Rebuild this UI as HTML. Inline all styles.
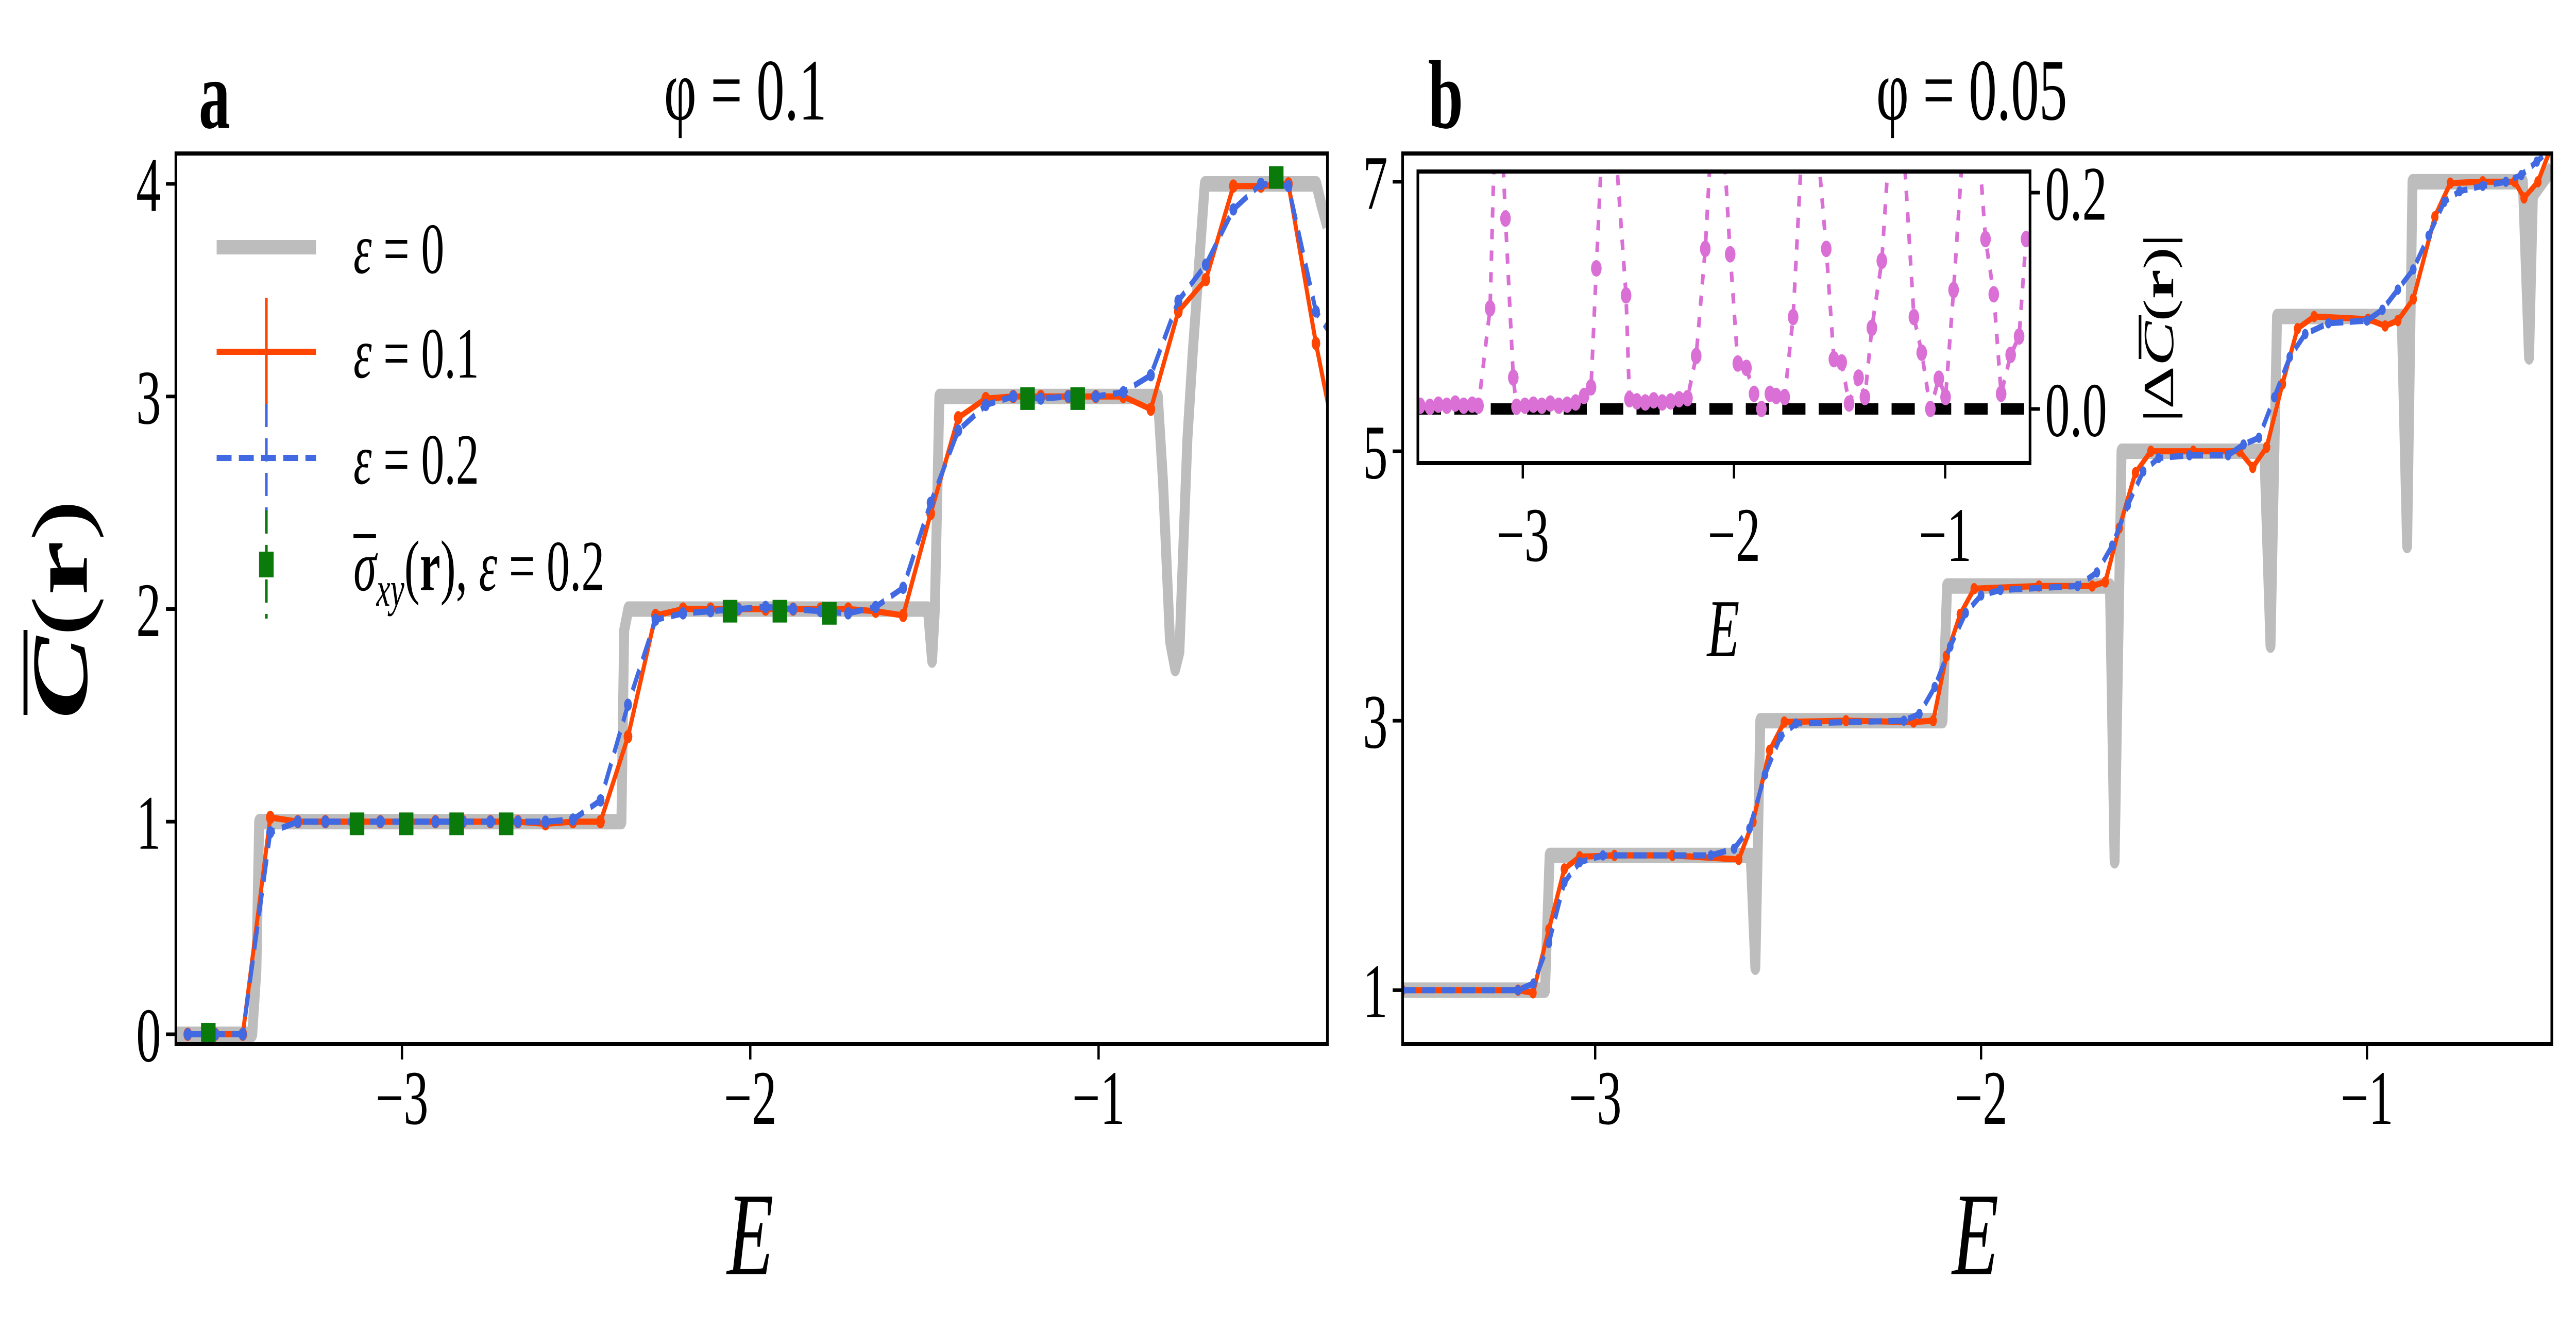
<!DOCTYPE html>
<html><head><meta charset="utf-8">
<style>
html,body{margin:0;padding:0;background:#fff;width:100%;height:100%;overflow:hidden;}
svg{display:block;width:100vw;height:100vh;}
text{font-family:"Liberation Serif","DejaVu Serif",serif;}
</style></head>
<body>
<svg id="fig" xmlns="http://www.w3.org/2000/svg" viewBox="0 0 7776 2588" preserveAspectRatio="none">
<defs>
<clipPath id="clipA"><rect x="531" y="298" width="3476" height="1729"/></clipPath>
<clipPath id="clipB"><rect x="4234" y="298" width="3469" height="1729"/></clipPath>
<clipPath id="clipI"><rect x="4280" y="333" width="1848" height="566"/></clipPath>
</defs>
<g id="root"></g>
</svg>
<script>
// ---------- Panel a data ----------
const aE = [-3.615,-3.536,-3.457,-3.378,-3.299,-3.220,-3.141,-3.062,-2.983,-2.904,-2.825,-2.746,-2.667,-2.588,-2.509,-2.430,-2.351,-2.272,-2.193,-2.114,-2.035,-1.956,-1.877,-1.798,-1.719,-1.640,-1.561,-1.482,-1.403,-1.324,-1.245,-1.166,-1.087,-1.008,-0.929,-0.850,-0.771,-0.692,-0.613,-0.534,-0.455,-0.376,-0.297];
const aRed = [0,0,0,1.02,1.0,1.0,1.0,1.0,1.0,1.0,1.0,1.0,1.0,0.99,1.0,1.0,1.4,1.97,2.0,2.0,2.0,2.0,2.0,2.0,2.0,1.99,1.97,2.45,2.9,2.99,3.0,3.0,3.0,3.0,3.0,2.94,3.4,3.55,3.99,3.99,4.0,3.25,2.6];
const aBlue = [0,0,0,0.95,1.0,1.0,1.0,1.0,1.0,1.0,1.0,1.0,1.0,1.0,1.01,1.1,1.55,1.95,1.98,1.99,2.0,2.01,2.0,1.99,1.98,2.01,2.1,2.5,2.84,2.96,3.0,2.99,3.0,3.0,3.02,3.1,3.45,3.62,3.88,4.0,3.99,3.4,3.2];
const aGrayE = [-3.65,-3.43,-3.418,-3.41,-2.37,-2.362,-2.35,-1.49,-1.478,-1.47,-1.457,-0.83,-0.815,-0.795,-0.78,-0.768,-0.745,-0.73,-0.695,-0.375,-0.36,-0.343];
const aGray = [0,0,0.3,1.0,1.0,1.9,2.0,2.0,1.76,2.0,3.0,3.0,2.6,1.85,1.72,1.8,2.8,3.2,4.0,4.0,3.9,3.8];
const aGreenE = [-3.556,-3.129,-2.988,-2.843,-2.701,-2.058,-1.915,-1.773,-1.204,-1.060,-0.490];
const aGreen = [0,0.99,0.99,0.99,0.99,1.99,1.99,1.98,2.99,2.99,4.03];
const aXTicks = [-3,-2,-1];
const aXTickLabels = ["\u22123","\u22122","\u22121"];
const aYTicks = [0,1,2,3,4];
const aYTickLabels = ["0","1","2","3","4"];

// ---------- Panel b data ----------
const bGrayE = [-3.5,-3.13,-3.118,-2.597,-2.585,-2.572,-2.10,-2.088,-1.666,-1.654,-1.636,-1.266,-1.25,-1.233,-0.91,-0.896,-0.882,-0.596,-0.58,-0.57,-0.52];
const bGray = [1,1,2,2,1.17,3,3,4,4,1.96,5,5,3.56,6,6,4.30,7,7,5.70,6.9,7.1];
const bRedE = [-3.5,-3.2,-3.161,-3.12,-3.08,-3.04,-2.95,-2.80,-2.628,-2.591,-2.548,-2.51,-2.35,-2.175,-2.124,-2.09,-2.054,-2.018,-1.85,-1.712,-1.678,-1.642,-1.60,-1.56,-1.45,-1.33,-1.296,-1.26,-1.219,-1.18,-1.137,-0.997,-0.953,-0.92,-0.88,-0.824,-0.784,-0.70,-0.617,-0.593,-0.557,-0.517];
const bRed = [1.0,1.0,0.98,1.45,1.9,1.99,2.0,2.0,1.97,2.25,2.78,2.99,3.0,2.99,3.0,3.48,3.79,3.98,4.0,4.0,4.03,4.43,4.84,5.0,5.0,5.0,4.88,5.03,5.5,5.91,6.0,5.98,5.93,5.97,6.13,6.74,6.99,7.0,7.0,6.88,7.0,7.3];
const bBlueE = [-3.5,-3.2,-3.16,-3.12,-3.08,-3.04,-2.98,-2.7,-2.64,-2.60,-2.56,-2.52,-2.48,-2.2,-2.16,-2.12,-2.08,-2.04,-2.0,-1.95,-1.75,-1.70,-1.66,-1.62,-1.58,-1.54,-1.46,-1.36,-1.32,-1.28,-1.24,-1.20,-1.16,-1.10,-1.00,-0.96,-0.92,-0.88,-0.84,-0.80,-0.76,-0.70,-0.64,-0.60,-0.56,-0.52];
const bBlue = [1.0,1.0,1.05,1.35,1.8,1.95,2.0,2.0,2.05,2.2,2.6,2.88,2.98,3.0,3.05,3.25,3.55,3.8,3.93,3.97,4.0,4.1,4.3,4.6,4.85,4.95,4.97,4.97,5.05,5.1,5.4,5.7,5.87,5.95,5.97,6.05,6.2,6.35,6.6,6.85,6.93,6.97,7.0,7.05,7.15,7.25];
const bXTicks = [-3,-2,-1];
const bXTickLabels = ["\u22123","\u22122","\u22121"];
const bYTicks = [1,3,5,7];
const bYTickLabels = ["1","3","5","7"];

// ---------- Inset data ----------
const iE = [-3.486,-3.44,-3.40,-3.36,-3.32,-3.28,-3.24,-3.21,-3.155,-3.12,-3.082,-3.045,-3.03,-2.99,-2.95,-2.91,-2.87,-2.83,-2.79,-2.75,-2.71,-2.677,-2.652,-2.60,-2.511,-2.495,-2.46,-2.42,-2.38,-2.34,-2.30,-2.26,-2.22,-2.179,-2.136,-2.08,-2.018,-1.982,-1.941,-1.905,-1.87,-1.83,-1.80,-1.76,-1.72,-1.65,-1.563,-1.527,-1.49,-1.455,-1.41,-1.38,-1.347,-1.30,-1.23,-1.148,-1.111,-1.07,-1.03,-0.998,-0.96,-0.88,-0.809,-0.77,-0.735,-0.69,-0.65,-0.617];
const iVal = [0.003,0.002,0.004,0.003,0.005,0.003,0.004,0.003,0.093,0.35,0.176,0.029,0.002,0.003,0.004,0.003,0.005,0.003,0.004,0.006,0.012,0.02,0.13,0.35,0.105,0.009,0.007,0.006,0.008,0.006,0.007,0.009,0.01,0.049,0.148,0.35,0.143,0.042,0.038,0.014,0.0,0.014,0.012,0.011,0.085,0.35,0.148,0.046,0.043,0.005,0.029,0.011,0.075,0.137,0.35,0.085,0.052,0.0,0.028,0.011,0.11,0.35,0.157,0.106,0.014,0.05,0.067,0.157];
const iXTicks = [-3,-2,-1];
const iXTickLabels = ["\u22123","\u22122","\u22121"];
const iYTicks = [0.0,0.2];
const iYTickLabels = ["0.0","0.2"];

const NS = "http://www.w3.org/2000/svg";
const root = document.getElementById('root');
function mk(tag, attrs, parent){
  const el = document.createElementNS(NS, tag);
  for (const k in attrs) el.setAttribute(k, attrs[k]);
  (parent||root).appendChild(el);
  return el;
}
function scale(d0,d1,r0,r1){ return v => r0 + (v-d0)/(d1-d0)*(r1-r0); }

const A = {x0:531,x1:4007,y0:298,y1:2027, xs:scale(-3.649,-0.343,531,4007), ys:scale(-0.046,4.143,2027,298)};
const B = {x0:4234,x1:7703,y0:298,y1:2027, xs:scale(-3.499,-0.521,4234,7703), ys:scale(0.60,7.21,2027,298)};
const I = {x0:4280,x1:6128,y0:333,y1:899, xs:scale(-3.497,-0.598,4280,6128), ys:scale(-0.05,0.2195,899,333)};

function pathD(xs,ys,X,Y){ return X.map((x,i)=>(i?'L':'M')+xs(x).toFixed(1)+' '+ys(Y[i]).toFixed(1)).join(' '); }

function line(ax, X, Y, stroke, w, dash, clip, name){
  const p = mk('path',{d:pathD(ax.xs,ax.ys,X,Y), fill:'none', stroke:stroke, 'stroke-width':w, 'stroke-linejoin':'round', 'clip-path':'url(#'+clip+')'});
  if (dash) p.setAttribute('stroke-dasharray', dash);
  
  
  return p;
}
function dots(ax, X, Y, fill, r, clip, name){
  const g = mk('g',{'clip-path':'url(#'+clip+')', fill:fill});
  
  
  X.forEach((x,i)=>{
    const c = mk('circle',{cx:ax.xs(x).toFixed(1), cy:ax.ys(Y[i]).toFixed(1), r:r}, g);
    
    
  });
  return g;
}
function frame(ax, name){
  const r = mk('rect',{x:ax.x0,y:ax.y0,width:ax.x1-ax.x0,height:ax.y1-ax.y0,fill:'none',stroke:'#000','stroke-width':8});
  
  
}
function xticks(ax, T, L, fs, name, labelOff){
  T.forEach((t,i)=>{
    const x = ax.xs(t);
    mk('line',{x1:x,x2:x,y1:ax.y1,y2:ax.y1+30,stroke:'#000','stroke-width':7});
    const tx = mk('text',{x:x,y:ax.y1+labelOff,'font-size':fs,'text-anchor':'middle'});
    tx.textContent = L[i];
    
    
  });
}
function yticksLeft(ax, T, L, fs, name){
  T.forEach((t,i)=>{
    const y = ax.ys(t);
    mk('line',{x1:ax.x0-30,x2:ax.x0,y1:y,y2:y,stroke:'#000','stroke-width':7});
    const tx = mk('text',{x:ax.x0-45,y:y+fs*0.35,'font-size':fs,'text-anchor':'end'});
    tx.textContent = L[i];
    
    
  });
}
function yticksRight(ax, T, L, fs, name){
  T.forEach((t,i)=>{
    const y = ax.ys(t);
    mk('line',{x1:ax.x1,x2:ax.x1+30,y1:y,y2:y,stroke:'#000','stroke-width':7});
    const tx = mk('text',{x:ax.x1+45,y:y+fs*0.35,'font-size':fs,'text-anchor':'start'});
    tx.textContent = L[i];
    
    
  });
}
function label(x,y,txt,fs,opts,name){
  const t = mk('text', Object.assign({x:x,y:y,'font-size':fs}, opts||{}));
  t.textContent = txt;
  
  
  return t;
}

// ---------- Panel a ----------
line(A, aGrayE, aGray, '#bdbdbd', 30, null, 'clipA', 'eps0-line-a');
line(A, aE, aRed, '#ff4500', 12, null, 'clipA', 'eps01-line-a');
dots(A, aE, aRed, '#ff4500', 13, 'clipA', 'eps01-markers-a');
line(A, aE, aBlue, '#4169e1', 12, '45 22', 'clipA', 'eps02-line-a');
dots(A, aE, aBlue, '#4169e1', 12, 'clipA', 'eps02-markers-a');
(function(){
  const g = mk('g',{'clip-path':'url(#clipA)',fill:'#0a7a0a'});
  
  
  aGreenE.forEach((e,i)=>{
    const r = mk('rect',{x:A.xs(e)-22,y:A.ys(aGreen[i])-22,width:44,height:44}, g);
    
    
  });
})();
frame(A, 'axes-a');
xticks(A, aXTicks, aXTickLabels, 150, 'x-tick-a', 155);
yticksLeft(A, aYTicks, aYTickLabels, 150, 'y-tick-a');
label(2265, 2474, 'E', 230, {'font-style':'italic','text-anchor':'middle'}, 'x-axis-title-a');
label(600, 248, 'a', 190, {'font-weight':'bold'}, 'panel-label-a');
label(2250, 232, '\u03C6 = 0.1', 170, {'text-anchor':'middle'}, 'title-a');
(function(){
  const g = mk('g',{transform:'translate(262,1183) rotate(-90)'});
  
  
  const t = mk('text',{x:0,y:0,'font-size':240,'text-anchor':'middle'}, g);
  t.innerHTML = '<tspan font-style="italic" font-weight="bold">C</tspan><tspan>(</tspan><tspan font-weight="bold">r</tspan><tspan>)</tspan>';
  mk('line',{x1:-205,x2:-40,y1:-185,y2:-185,stroke:'#000','stroke-width':12}, g);
})();
(function(){
  const ys = [480,683,889,1096];
  const vals = ['0','0.1','0.2'];
  const names = ['gray','red','blue'];
  const g = mk('g',{});
  
  
  mk('line',{x1:654,x2:954,y1:ys[0],y2:ys[0],stroke:'#bdbdbd','stroke-width':28},g);
  mk('line',{x1:654,x2:954,y1:ys[1],y2:ys[1],stroke:'#ff4500','stroke-width':12},g);
  mk('line',{x1:804,x2:804,y1:ys[1]-105,y2:ys[1]+105,stroke:'#ff4500','stroke-width':8},g);
  mk('line',{x1:654,x2:954,y1:ys[2],y2:ys[2],stroke:'#4169e1','stroke-width':12,'stroke-dasharray':'45 22'},g);
  mk('line',{x1:804,x2:804,y1:ys[2]-105,y2:ys[2]+105,stroke:'#4169e1','stroke-width':8,'stroke-dasharray':'45 22'},g);
  mk('line',{x1:804,x2:804,y1:ys[3]-105,y2:ys[3]+105,stroke:'#0a7a0a','stroke-width':8,'stroke-dasharray':'45 22'},g);
  mk('rect',{x:782,y:ys[3]-25,width:44,height:50,fill:'#0a7a0a'},g);
  for (let i=0;i<3;i++){
    const t = mk('text',{x:1067,y:ys[i]+50,'font-size':140},g);
    t.innerHTML = '<tspan font-style="italic">\u03B5</tspan> = ' + vals[i];
    
    
  }
  const t = mk('text',{x:1067,y:ys[3]+50,'font-size':140},g);
  t.innerHTML = '<tspan font-style="italic">\u03C3</tspan><tspan font-style="italic" font-size="95" dy="30">xy</tspan><tspan dy="-30">(</tspan><tspan font-weight="bold">r</tspan>), <tspan font-style="italic">\u03B5</tspan> = 0.2';
  
  
  mk('line',{x1:1067,x2:1135,y1:ys[3]-55,y2:ys[3]-55,stroke:'#000','stroke-width':8},g);
})();

// ---------- Panel b ----------
line(B, bGrayE, bGray, '#bdbdbd', 30, null, 'clipB', 'eps0-line-b');
line(B, bRedE, bRed, '#ff4500', 12, null, 'clipB', 'eps01-line-b');
dots(B, bRedE, bRed, '#ff4500', 11, 'clipB', 'eps01-markers-b');
line(B, bBlueE, bBlue, '#4169e1', 12, '40 20', 'clipB', 'eps02-line-b');
dots(B, bBlueE, bBlue, '#4169e1', 10, 'clipB', 'eps02-markers-b');
frame(B, 'axes-b');
xticks(B, bXTicks, bXTickLabels, 150, 'x-tick-b', 155);
yticksLeft(B, bYTicks, bYTickLabels, 150, 'y-tick-b');
label(5963, 2474, 'E', 230, {'font-style':'italic','text-anchor':'middle'}, 'x-axis-title-b');
label(4311, 248, 'b', 190, {'font-weight':'bold'}, 'panel-label-b');
label(5952, 232, '\u03C6 = 0.05', 170, {'text-anchor':'middle'}, 'title-b');

// ---------- Inset ----------
(function(){
  const r = mk('rect',{x:I.x0,y:I.y0,width:I.x1-I.x0,height:I.y1-I.y0,fill:'#fff'});
  
  
})();
(function(){
  const y = I.ys(0);
  const l = mk('line',{x1:I.x0,x2:I.x1,y1:y,y2:y,stroke:'#000','stroke-width':22,'stroke-dasharray':'70 40'});
  
  
})();
line(I, iE, iVal, '#da70d6', 11, '20 22', 'clipI', 'inset-delta-line');
dots(I, iE, iVal, '#da70d6', 16, 'clipI', 'inset-delta-markers');
frame(I, 'inset-axes');
xticks(I, iXTicks, iXTickLabels, 150, 'inset-x-tick', 190);
yticksRight(I, iYTicks, iYTickLabels, 150, 'inset-y-tick');
label(5202, 1274, 'E', 160, {'font-style':'italic','text-anchor':'middle'}, 'inset-x-axis-title');
(function(){
  const g = mk('g',{transform:'translate(6560,637) rotate(-90)'});
  
  
  const t = mk('text',{x:0,y:0,'font-size':130,'text-anchor':'middle'}, g);
  t.innerHTML = '|\u0394<tspan font-style="italic">C</tspan>(<tspan font-weight="bold">r</tspan>)|';
  mk('line',{x1:-60,x2:25,y1:-100,y2:-100,stroke:'#000','stroke-width':8}, g);
})();
</script>
</body></html>
